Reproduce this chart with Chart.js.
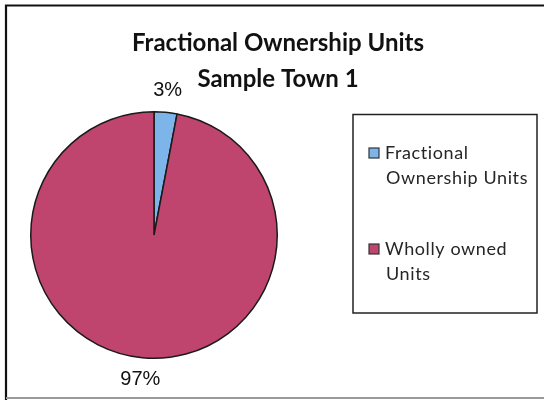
<!DOCTYPE html>
<html>
<head>
<meta charset="utf-8">
<script src="https://cdn.jsdelivr.net/npm/chart.js@4.4.1/dist/chart.umd.min.js"></script>
<style>
  html, body { margin: 0; padding: 0; background: #fff; }
  #wrap { width: 544px; height: 400px; position: relative; }
</style>
</head>
<body>
<div id="wrap"><canvas id="pie" width="544" height="400"></canvas></div>
<script>
// Chart data
const categories = ['Fractional Ownership Units', 'Wholly owned Units'];
const legendLines = [['Fractional', 'Ownership Units'], ['Wholly owned', 'Units']];
const shares = [3, 97];
const sliceColors = ['#7db5ea', '#bf456f'];
const titleLines = ['Fractional Ownership Units', 'Sample Town 1'];

// Outer frame around the chart
const framePlugin = {
  id: 'frame',
  beforeDraw(chart) {
    const ctx = chart.ctx;
    ctx.save();
    ctx.fillStyle = '#fff';
    ctx.fillRect(0, 0, chart.width, chart.height);
    ctx.strokeStyle = '#111';
    ctx.lineWidth = 2.2;
    ctx.beginPath();
    ctx.moveTo(6, 400); ctx.lineTo(6, 5.5); ctx.lineTo(544, 5.5);
    ctx.stroke();
    ctx.strokeStyle = '#9a9a9a';
    ctx.lineWidth = 2;
    ctx.beginPath();
    ctx.moveTo(6, 398); ctx.lineTo(544, 398);
    ctx.stroke();
    ctx.restore();
  }
};

// Two-line bold title
const titlePlugin = {
  id: 'twoLineTitle',
  afterDraw(chart) {
    const ctx = chart.ctx;
    ctx.save();
    ctx.fillStyle = '#111';
    ctx.textAlign = 'center';
    ctx.textBaseline = 'middle';
    ctx.font = 'bold 24px Lato';
    ctx.fillText(titleLines[0], 278, 43);
    ctx.fillText(titleLines[1], 278, 79);
    ctx.restore();
  }
};

// Percentage labels just outside each slice
const percentPlugin = {
  id: 'percentLabels',
  afterDatasetsDraw(chart) {
    const ctx = chart.ctx;
    const meta = chart.getDatasetMeta(0);
    const values = chart.data.datasets[0].data;
    const total = values.reduce((a, b) => a + b, 0);
    ctx.save();
    ctx.fillStyle = '#111';
    ctx.font = '20px "Liberation Sans"';
    ctx.textAlign = 'center';
    ctx.textBaseline = 'middle';
    meta.data.forEach((arc, i) => {
      const p = arc.getProps(['x', 'y', 'startAngle', 'endAngle', 'outerRadius'], true);
      const mid = (p.startAngle + p.endAngle) / 2;
      const r = p.outerRadius + 22;
      const text = Math.round(values[i] / total * 100) + '%';
      ctx.fillText(text, p.x + Math.cos(mid) * r, p.y + Math.sin(mid) * r);
    });
    ctx.restore();
  }
};

// Boxed legend with wrapped entries
const boxLegendPlugin = {
  id: 'boxLegend',
  afterDraw(chart) {
    const ctx = chart.ctx;
    const ds = chart.data.datasets[0];
    ctx.save();
    ctx.strokeStyle = '#222';
    ctx.lineWidth = 1.5;
    ctx.strokeRect(353, 114.5, 184, 198.5);
    ctx.font = '18px Lato';
    if ('letterSpacing' in ctx) ctx.letterSpacing = '0.6px';
    ctx.textBaseline = 'alphabetic';
    ctx.textAlign = 'left';
    const tops = [148, 244];
    chart.data.labels.forEach((lbl, i) => {
      const y0 = tops[i];
      ctx.fillStyle = ds.backgroundColor[i];
      ctx.fillRect(369, y0, 10, 10);
      ctx.strokeStyle = '#333';
      ctx.lineWidth = 1.2;
      ctx.strokeRect(369, y0, 10, 10);
      ctx.fillStyle = '#262626';
      legendLines[i].forEach((line, j) => {
        ctx.fillText(line, j === 0 ? 385 : 386, y0 + 11 + j * 25);
      });
    });
    ctx.restore();
  }
};

new Chart(document.getElementById('pie'), {
  type: 'pie',
  data: {
    labels: categories,
    datasets: [{
      data: shares,
      backgroundColor: sliceColors,
      borderColor: '#1a1a1a',
      borderWidth: 1.5
    }]
  },
  options: {
    responsive: false,
    animation: false,
    devicePixelRatio: 1,
    layout: { padding: { left: 30, right: 266, top: 111, bottom: 41 } },
    plugins: {
      legend: { display: false },
      title: { display: false },
      tooltip: { enabled: false }
    }
  },
  plugins: [framePlugin, titlePlugin, percentPlugin, boxLegendPlugin]
});
</script>
</body>
</html>
